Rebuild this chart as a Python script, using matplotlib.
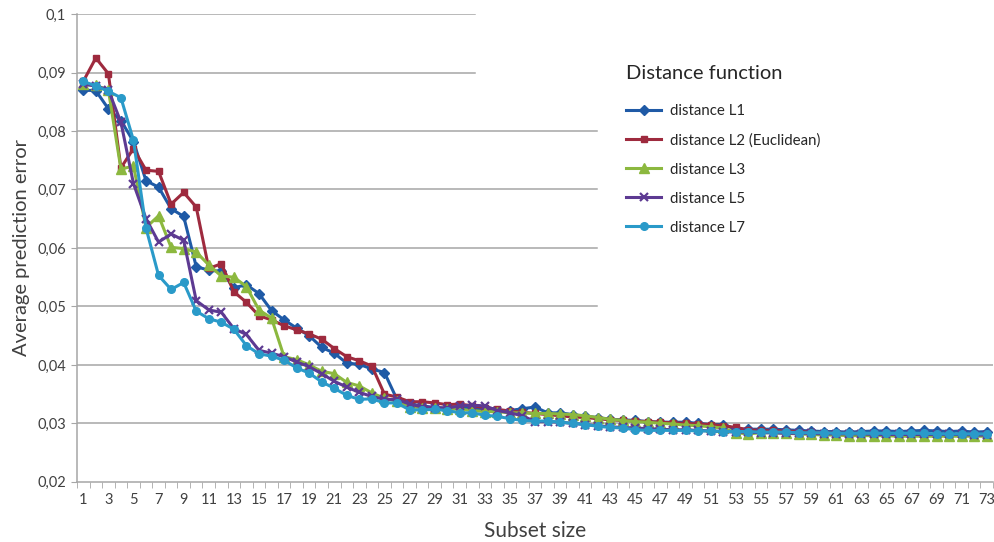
import numpy as np
import matplotlib.pyplot as plt

plt.rcParams['font.family'] = ['Lato', 'DejaVu Sans']

subset = np.arange(1, 74)

l1 = [0.0870, 0.0869, 0.0838, 0.0818, 0.0782, 0.0715, 0.0704, 0.0667, 0.0654, 0.0568,
      0.0562, 0.0560, 0.0532, 0.0537, 0.0522, 0.0493, 0.0477, 0.0463, 0.0450, 0.0430,
      0.0420, 0.0403, 0.0401, 0.0393, 0.0387, 0.0341, 0.0333, 0.0330, 0.0327, 0.0326,
      0.0326, 0.0325, 0.0323, 0.0322, 0.0322, 0.0325, 0.0328, 0.0318, 0.0318, 0.0315,
      0.0312, 0.0310, 0.0307, 0.0306, 0.0305, 0.0303, 0.0302, 0.0302, 0.0302, 0.0300,
      0.0298, 0.0298, 0.0290, 0.0290, 0.0290, 0.0290, 0.0289, 0.0288, 0.0287, 0.0286,
      0.0286, 0.0285, 0.0286, 0.0287, 0.0287, 0.0286, 0.0287, 0.0288, 0.0287, 0.0286,
      0.0287, 0.0285, 0.0286]
l2 = [0.0885, 0.0925, 0.0898, 0.0737, 0.0770, 0.0733, 0.0731, 0.0675, 0.0695, 0.0670,
      0.0565, 0.0573, 0.0525, 0.0507, 0.0484, 0.0477, 0.0467, 0.0460, 0.0453, 0.0444,
      0.0428, 0.0414, 0.0407, 0.0398, 0.0350, 0.0345, 0.0337, 0.0337, 0.0335, 0.0332,
      0.0333, 0.0330, 0.0327, 0.0324, 0.0321, 0.0319, 0.0317, 0.0315, 0.0313, 0.0311,
      0.0310, 0.0308, 0.0306, 0.0305, 0.0304, 0.0303, 0.0302, 0.0301, 0.0300, 0.0299,
      0.0298, 0.0296, 0.0293, 0.0289, 0.0288, 0.0288, 0.0287, 0.0286, 0.0285, 0.0284,
      0.0283, 0.0283, 0.0283, 0.0282, 0.0282, 0.0282, 0.0281, 0.0281, 0.0281, 0.0281,
      0.0281, 0.0281, 0.0281]
l3 = [0.0880, 0.0878, 0.0870, 0.0735, 0.0740, 0.0635, 0.0655, 0.0601, 0.0599, 0.0593,
      0.0571, 0.0552, 0.0550, 0.0534, 0.0494, 0.0480, 0.0414, 0.0409, 0.0400, 0.0389,
      0.0385, 0.0370, 0.0364, 0.0352, 0.0343, 0.0338, 0.0328, 0.0327, 0.0326, 0.0325,
      0.0324, 0.0322, 0.0320, 0.0320, 0.0318, 0.0318, 0.0317, 0.0317, 0.0316, 0.0315,
      0.0313, 0.0310, 0.0307, 0.0305, 0.0303, 0.0302, 0.0300, 0.0299, 0.0297, 0.0296,
      0.0294, 0.0292, 0.0284, 0.0282, 0.0284, 0.0284, 0.0283, 0.0282, 0.0281, 0.0280,
      0.0280, 0.0279, 0.0279, 0.0279, 0.0279, 0.0278, 0.0278, 0.0278, 0.0278, 0.0278,
      0.0278, 0.0278, 0.0278]
l5 = [0.0880, 0.0877, 0.0870, 0.0815, 0.0710, 0.0650, 0.0610, 0.0624, 0.0613, 0.0510,
      0.0494, 0.0490, 0.0462, 0.0452, 0.0425, 0.0420, 0.0414, 0.0405, 0.0397, 0.0385,
      0.0372, 0.0362, 0.0353, 0.0346, 0.0341, 0.0341, 0.0333, 0.0328, 0.0327, 0.0326,
      0.0330, 0.0331, 0.0330, 0.0322, 0.0318, 0.0313, 0.0303, 0.0303, 0.0302, 0.0300,
      0.0298, 0.0296, 0.0294, 0.0293, 0.0292, 0.0291, 0.0290, 0.0289, 0.0289, 0.0288,
      0.0287, 0.0286, 0.0285, 0.0285, 0.0284, 0.0284, 0.0283, 0.0283, 0.0283, 0.0282,
      0.0282, 0.0282, 0.0282, 0.0281, 0.0281, 0.0281, 0.0281, 0.0281, 0.0281, 0.0281,
      0.0281, 0.0280, 0.0280]
l7 = [0.0885, 0.0877, 0.0868, 0.0857, 0.0784, 0.0634, 0.0553, 0.0529, 0.0541, 0.0492,
      0.0479, 0.0473, 0.0461, 0.0433, 0.0419, 0.0415, 0.0408, 0.0395, 0.0386, 0.0371,
      0.0360, 0.0348, 0.0341, 0.0342, 0.0335, 0.0335, 0.0323, 0.0323, 0.0324, 0.0322,
      0.0318, 0.0318, 0.0314, 0.0312, 0.0308, 0.0305, 0.0304, 0.0304, 0.0302, 0.0300,
      0.0298, 0.0295, 0.0293, 0.0292, 0.0289, 0.0288, 0.0288, 0.0288, 0.0288, 0.0287,
      0.0287, 0.0286, 0.0286, 0.0286, 0.0285, 0.0285, 0.0285, 0.0284, 0.0284, 0.0284,
      0.0283, 0.0283, 0.0283, 0.0283, 0.0283, 0.0283, 0.0283, 0.0283, 0.0282, 0.0282,
      0.0282, 0.0282, 0.0282]

labels = ["distance L1", "distance L2 (Euclidean)", "distance L3", "distance L5", "distance L7"]
yticks = [0.02, 0.03, 0.04, 0.05, 0.06, 0.07, 0.08, 0.09, 0.1]
ytick_labels = ["0,02", "0,03", "0,04", "0,05", "0,06", "0,07", "0,08", "0,09", "0,1"]

colors = ["#1f5aa6", "#9e2a3e", "#8cb83f", "#5d3a92", "#2a9ac9"]
markers = ["D", "s", "^", "x", "o"]
msizes = [5, 4.5, 6.5, 6, 5.5]

fig = plt.figure(figsize=(9.95, 5.42), dpi=100)
ax = fig.add_axes([0.0774, 0.111, 0.9206, 0.863])

# gridlines, partly hidden behind the legend area like the original
grid_ends = {0.1: 0.434, 0.09: 0.434, 0.08: 0.568, 0.07: 0.568, 0.06: 0.568, 0.05: 0.568,
             0.04: 1.0, 0.03: 1.0}
for yv, xm in grid_ends.items():
    ax.axhline(yv, xmin=0, xmax=xm, color="#a6a6a6", lw=1.1, zorder=0)

for data, lab, c, m, ms in zip([l1, l2, l3, l5, l7], labels, colors, markers, msizes):
    ax.plot(subset, data, color=c, marker=m, ms=ms, lw=2.2, label=lab,
            mew=1.6 if m == "x" else 1.0)

ax.set_xlim(0.5, 73.5)
ax.set_ylim(0.02, 0.1)
ax.set_yticks(yticks)
ax.set_yticklabels(ytick_labels)
ax.set_xticks(subset[::2])
ax.set_xticklabels([str(v) for v in subset[::2]])
ax.set_xticks(np.arange(0.5, 74, 1), minor=True)
ax.tick_params(axis="x", which="major", length=0, pad=8, labelsize=10.5, colors="#404040")
ax.tick_params(axis="x", which="minor", length=4, color="#a6a6a6", direction="out")
ax.tick_params(axis="y", length=4, color="#a6a6a6", labelsize=10.5, colors="#404040", pad=4)

for s in ["top", "right"]:
    ax.spines[s].set_visible(False)
for s in ["left", "bottom"]:
    ax.spines[s].set_color("#a6a6a6")
    ax.spines[s].set_linewidth(1.1)

ax.set_xlabel("Subset size", fontsize=15, color="#404040", labelpad=10)
ax.set_ylabel("Average prediction error", fontsize=14.5, color="#404040", labelpad=5)

leg = ax.legend(loc="upper left", bbox_to_anchor=(0.585, 0.92), frameon=False,
                title="Distance function", fontsize=10.8, title_fontsize=14.5,
                labelspacing=1.0, handlelength=2.3, handletextpad=0.6,
                alignment="left")
leg.get_title().set_color("#262626")
for t in leg.get_texts():
    t.set_color("#262626")
leg._legend_box.sep = 16

fig.savefig("out.png", dpi=100)
